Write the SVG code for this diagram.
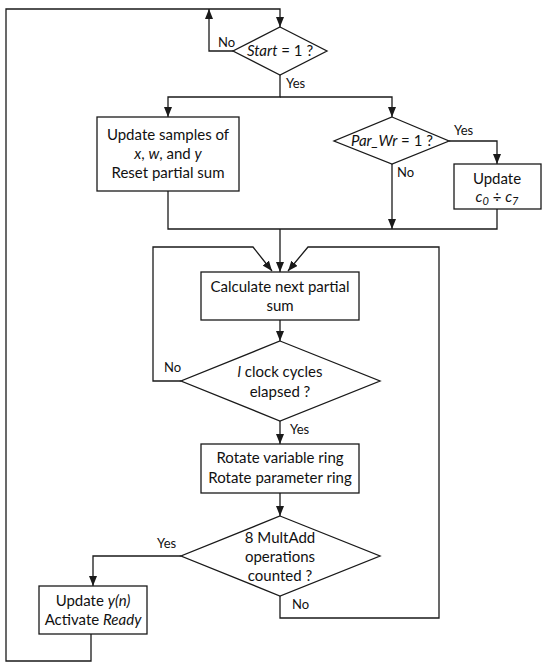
<svg xmlns="http://www.w3.org/2000/svg" width="550" height="670" viewBox="0 0 550 670">
<style>
.n{fill:#fff;stroke:#1a1a1a;stroke-width:1.3}
.c{fill:none;stroke:#1a1a1a;stroke-width:1.3}
text{font-family:Lato,"Liberation Sans",sans-serif;font-size:15px;fill:#111}
.m{text-anchor:middle}
.l{font-size:13px}
.i{font-style:italic}
</style>
<defs>
<marker id="a" markerUnits="userSpaceOnUse" markerWidth="10" markerHeight="8" refX="10" refY="4" orient="auto">
<path d="M0,0 L10,4 L0,8 z" fill="#1a1a1a"/>
</marker>
</defs>
<rect width="550" height="670" fill="#fff"/>
<g id="connectors">
<path class="c" d="M91,634 V661 H6 V9 H280 V27" marker-end="url(#a)"/>
<path class="c" d="M233,51 H209 V9" marker-end="url(#a)"/>
<path class="c" d="M280,75 V97 H168 V117" marker-end="url(#a)"/>
<path class="c" d="M280,97 H392 V117" marker-end="url(#a)"/>
<path class="c" d="M449,141 H497 V164" marker-end="url(#a)"/>
<path class="c" d="M392,164 V229" marker-end="url(#a)"/>
<path class="c" d="M168,191 V229 H497 V209"/>
<path class="c" d="M280,229 V272" marker-end="url(#a)"/>
<path class="c" d="M181,381 H153 V247 H253 L272,271" marker-end="url(#a)"/>
<path class="c" d="M280,596 V618 H439 V247 H308 L288,271" marker-end="url(#a)"/>
<path class="c" d="M280,320 V341" marker-end="url(#a)"/>
<path class="c" d="M280,421 V444" marker-end="url(#a)"/>
<path class="c" d="M280,493 V516" marker-end="url(#a)"/>
<path class="c" d="M181,556 H93 V586" marker-end="url(#a)"/>
<text class="l" x="218" y="47">No</text>
<text class="l" x="286" y="88">Yes</text>
<text class="l" x="454" y="135">Yes</text>
<text class="l" x="397" y="177">No</text>
<text class="l" x="164" y="372">No</text>
<text class="l" x="290" y="434">Yes</text>
<text class="l" x="157" y="548">Yes</text>
<text class="l" x="292" y="609">No</text>
</g>
<g id="start">
<polygon class="n" points="280,27 327,51 280,75 233,51"/>
<text class="m" x="280" y="56"><tspan class="i">Start</tspan> = 1 ?</text>
</g>
<g id="update-samples">
<rect class="n" x="97" y="117" width="142" height="74"/>
<text class="m" x="168" y="140">Update samples of</text>
<text class="m" x="168" y="159"><tspan class="i">x</tspan>, <tspan class="i">w</tspan>, and <tspan class="i">y</tspan></text>
<text class="m" x="168" y="178">Reset partial sum</text>
</g>
<g id="par-wr">
<polygon class="n" points="392,117 449,141 392,164 334,141"/>
<text class="m" x="392" y="146"><tspan class="i">Par_Wr</tspan> = 1 ?</text>
</g>
<g id="update-c">
<rect class="n" x="454" y="164" width="87" height="45"/>
<text class="m" x="497" y="184">Update</text>
<text class="m i" x="497" y="202" style="font-size:15px">c<tspan dy="3" style="font-size:11px">0</tspan><tspan dy="-3" style="font-style:normal"> ÷  </tspan>c<tspan dy="3" style="font-size:11px">7</tspan></text>
</g>
<g id="calc">
<rect class="n" x="201" y="272" width="158" height="48"/>
<text class="m" x="280" y="292">Calculate next partial</text>
<text class="m" x="280" y="311">sum</text>
</g>
<g id="clock">
<polygon class="n" points="280,341 380,381 280,421 181,381"/>
<text class="m" x="280" y="377"><tspan class="i">l</tspan> clock cycles</text>
<text class="m" x="280" y="397">elapsed ?</text>
</g>
<g id="rotate">
<rect class="n" x="201" y="444" width="158" height="49"/>
<text class="m" x="280" y="463">Rotate variable ring</text>
<text class="m" x="280" y="483">Rotate parameter ring</text>
</g>
<g id="multadd">
<polygon class="n" points="280,516 380,556 280,596 181,556"/>
<text class="m" x="280" y="543">8 MultAdd</text>
<text class="m" x="280" y="562">operations</text>
<text class="m" x="280" y="581">counted ?</text>
</g>
<g id="update-y">
<rect class="n" x="39" y="586" width="108" height="48"/>
<text class="m" x="93" y="606">Update <tspan class="i">y(n)</tspan></text>
<text class="m" x="93" y="625">Activate <tspan class="i">Ready</tspan></text>
</g>
</svg>
